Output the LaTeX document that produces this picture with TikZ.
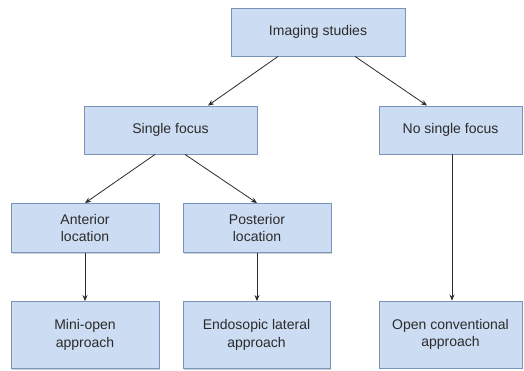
\documentclass[tikz,border=0pt]{standalone}
\usepackage{fontspec}
\setmainfont{Liberation Sans}
\usetikzlibrary{arrows.meta,shadows}
\definecolor{boxfill}{HTML}{CCDCF2}
\definecolor{boxline}{HTML}{7A93B8}
\definecolor{ink}{HTML}{2B2B2B}
\tikzset{
  stagebox/.style={draw=boxline, line width=0.9pt, fill=boxfill, text=ink,
    font=\fontsize{14}{17.5}\selectfont, align=center, inner sep=2pt,
    drop shadow={shadow xshift=1.2pt, shadow yshift=-1.2pt, opacity=0.35}},
  flow/.style={draw=ink, line width=0.8pt, -{Stealth[length=6pt,width=5pt]}}
}
\begin{document}
\begin{tikzpicture}[x=1pt,y=1pt]
  \useasboundingbox[fill=white] (0,0) rectangle (524,370);

  % decision levels
  \node[stagebox, minimum width=174pt, minimum height=48pt] (img) at (318,338) {Imaging studies};
  \node[stagebox, minimum width=173pt, minimum height=48pt] (single) at (170.5,240) {Single focus};
  \node[stagebox, minimum width=143pt, minimum height=48pt] (nosingle) at (450.5,240) {No single focus};
  \node[stagebox, minimum width=148pt, minimum height=49pt] (ant) at (85,142) {Anterior\\location};
  \node[stagebox, minimum width=148pt, minimum height=49pt] (post) at (257,142) {Posterior\\location};

  % approaches
  \node[stagebox, minimum width=148pt, minimum height=67pt] (mini) at (85,35) {Mini-open\\approach};
  \node[stagebox, minimum width=147pt, minimum height=67pt] (endo) at (256.5,35) {Endosopic lateral\\approach};
  \node[stagebox, minimum width=143pt, minimum height=67pt] (open) at (450.5,35.5) {Open conventional\\approach};

  % connectors
  \draw[flow] ([xshift=-40pt]img.south) -- ([xshift=37.5pt]single.north);
  \draw[flow] ([xshift=37pt]img.south) -- ([xshift=-23.5pt]nosingle.north);
  \draw[flow] ([xshift=-15.5pt]single.south) -- (ant.north);
  \draw[flow] ([xshift=14.5pt]single.south) -- (post.north);
  \draw[flow] (ant.south) -- (mini.north);
  \draw[flow] (post.south) -- ([xshift=0.5pt]endo.north);
  \draw[flow] ([xshift=1.5pt]nosingle.south) -- ([xshift=1.5pt]open.north);
\end{tikzpicture}
\end{document}
